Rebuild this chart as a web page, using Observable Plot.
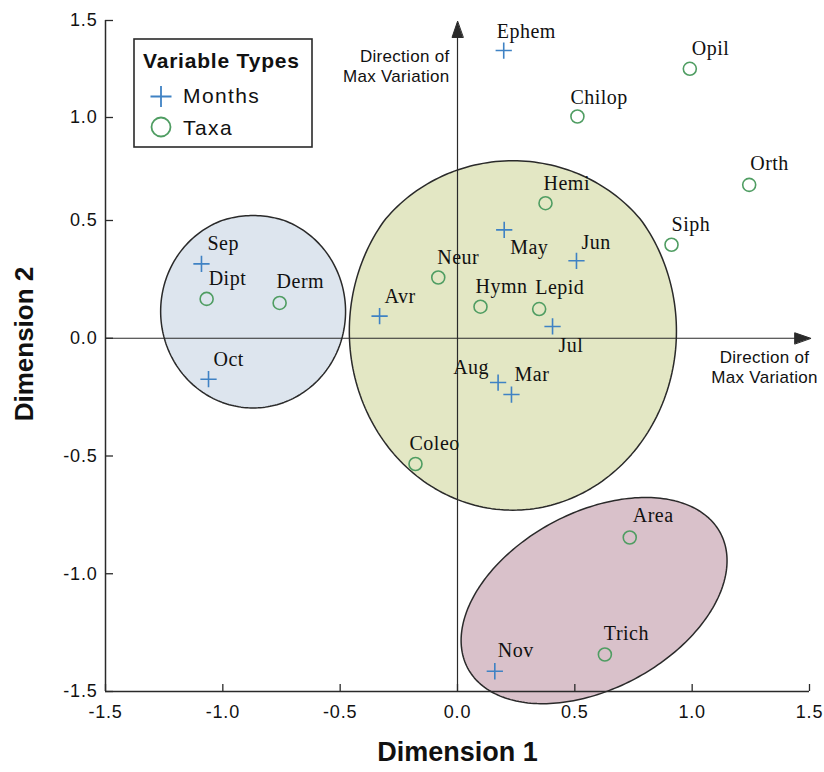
<!DOCTYPE html>
<html>
<head>
<meta charset="utf-8">
<script src="https://cdn.jsdelivr.net/npm/d3@7"></script>
<script src="https://cdn.jsdelivr.net/npm/@observablehq/plot@0.6"></script>
<style>
  body { margin: 0; background: #fff; }
  #wrap { position: relative; width: 824px; height: 772px; }
  #legend { position: absolute; left: 133px; top: 38px; }
  g[aria-label="x-axis tick label"] text, g[aria-label="y-axis tick label"] text { letter-spacing: 0.8px; }
  .ptlabel text { letter-spacing: 0.5px; }
  .dirlabel text { letter-spacing: 0.3px; }
</style>
</head>
<body>
<div id="wrap"></div>
<script>
// ---------- data ----------
const monthNames = ["Ephem", "Sep", "Oct", "Avr", "May", "Jun", "Jul", "Aug", "Mar", "Nov"];
const monthX     = [0.197, -1.091, -1.061, -0.332, 0.199, 0.507, 0.405, 0.173, 0.230, 0.159];
const monthY     = [1.345, 0.316, -0.174, 0.094, 0.460, 0.329, 0.050, -0.188, -0.239, -1.414];

const taxaNames = ["Opil", "Chilop", "Orth", "Hemi", "Siph", "Neur", "Hymn", "Lepid", "Dipt", "Derm", "Coleo", "Area", "Trich"];
const taxaX     = [0.990, 0.511, 1.243, 0.375, 0.912, -0.082, 0.098, 0.348, -1.069, -0.758, -0.179, 0.734, 0.628];
const taxaY     = [1.251, 1.005, 0.673, 0.584, 0.397, 0.258, 0.134, 0.124, 0.167, 0.150, -0.534, -0.846, -1.343];

// cluster ellipses (centre, semi-axes in data units, rotation in degrees)
const clusterIds    = ["left", "centre", "bottom"];
const clusterCx     = [-0.871, 0.236, 0.582];
const clusterCy     = [0.114, 0.030, -1.114];
const clusterRx     = [0.394, 0.697, 0.610];
const clusterRy     = [0.410, 0.760, 0.375];
const clusterAngle  = [0, 0, 28];
const clusterFill   = ["#dde5ee", "#e3e7c4", "#d9c1ca"];

const ticks = [-1.5, -1.0, -0.5, 0.0, 0.5, 1.0, 1.5];

// ---------- derived tables ----------
const months = monthNames.map((n, i) => ({name: n, x: monthX[i], y: monthY[i]}));
const taxa = taxaNames.map((n, i) => ({name: n, x: taxaX[i], y: taxaY[i]}));

function ellipsePoints(i) {
  const pts = [];
  const phi = clusterAngle[i] * Math.PI / 180;
  for (let k = 0; k < 240; k++) {
    const t = 2 * Math.PI * k / 240;
    const dx = clusterRx[i] * Math.cos(t), dy = clusterRy[i] * Math.sin(t);
    pts.push({
      x: clusterCx[i] + dx * Math.cos(phi) - dy * Math.sin(phi),
      y: clusterCy[i] + dx * Math.sin(phi) + dy * Math.cos(phi)
    });
  }
  return pts;
}

// label placement (pixels, relative to marker)
const placement = {
  Ephem: [-7, -19], Opil: [2, -20], Chilop: [-7, -19], Orth: [1, -21], Hemi: [-2, -20],
  Siph: [0, -20], Jun: [5, -18], May: [6, 18], Neur: [-1, -20], Hymn: [-5, -20],
  Lepid: [-4, -21], Jul: [6, 19], Aug: [-9, -15, "end"], Mar: [3, -20], Avr: [5, -20],
  Sep: [6, -20], Dipt: [2, -20], Derm: [-3, -21], Oct: [5, -20], Coleo: [-6, -20],
  Area: [3, -22], Trich: [-1, -21], Nov: [3, -21]
};

const blue = "#3f82c4";
const green = "#4f9d62";
const ink = "#2a2a2a";
const sans = "'Liberation Sans', Arial, Helvetica, sans-serif";
const serif = "'Liberation Serif', 'Times New Roman', serif";

const headShape = {
  draw(c, l) { c.moveTo(0, 0); c.lineTo(-5.5, l); c.lineTo(5.5, l); c.closePath(); }
};
const arrowTips = [{x: 0, y: 1.495, rot: 0}, {x: 1.505, y: 0, rot: 90}];

const labelMarks = [...months, ...taxa].map(d => {
  const p = placement[d.name] || [2, -20];
  return Plot.text([d], {
    x: "x", y: "y", text: "name", dx: p[0], dy: p[1],
    textAnchor: p[2] || "start", fontFamily: serif, fontSize: 20, fill: "#111",
    className: "ptlabel"
  });
});

const chart = Plot.plot({
  width: 824,
  height: 772,
  marginLeft: 105,
  marginRight: 15,
  marginTop: 20,
  marginBottom: 81,
  style: {fontFamily: sans, background: "#fff", overflow: "visible"},
  x: {type: "linear", domain: [-1.5, 1.5], range: [105, 809], label: null},
  y: {type: "linear", domain: [-1.5, 0.5, 1.0, 1.5], range: [691, 220, 117, 20], label: null},
  marks: [
    ...clusterIds.map((id, i) => Plot.line(ellipsePoints(i), {
      x: "x", y: "y", curve: "linear-closed", fill: clusterFill[i], stroke: ink, strokeWidth: 1.5
    })),
    // zero axes with arrowheads
    Plot.ruleY([0], {x1: -1.5, x2: 1.47, stroke: ink, strokeWidth: 1.2}),
    Plot.ruleX([0], {y1: -1.5, y2: 1.46, stroke: ink, strokeWidth: 1.2}),
    Plot.vector(arrowTips, {x: "x", y: "y", rotate: "rot", length: 16, anchor: "start",
      shape: headShape, fill: ink, stroke: ink, strokeWidth: 1}),
    // frame lines
    Plot.ruleX([-1.5], {y1: -1.5, y2: 1.5, stroke: ink, strokeWidth: 1.5}),
    Plot.ruleY([-1.5], {x1: -1.5, x2: 1.5, stroke: ink, strokeWidth: 1.5}),
    Plot.axisY(ticks, {anchor: "left", tickSize: -8, tickPadding: 16, tickFormat: d => d.toFixed(1),
      fontSize: 18, fill: "#111", stroke: ink, strokeWidth: 1.3, label: null}),
    Plot.axisX(ticks, {anchor: "bottom", tickSize: -7, tickPadding: 21, tickFormat: d => d.toFixed(1),
      fontSize: 18, fill: "#111", stroke: ink, strokeWidth: 1.3, label: null}),
    // direction annotations
    Plot.text(["Direction of\nMax Variation"], {x: 0, y: 1.5, dx: -8, dy: 27, textAnchor: "end",
      lineAnchor: "top", lineHeight: 1.2, fontSize: 17, fill: "#111", className: "dirlabel"}),
    Plot.text(["Direction of\nMax Variation"], {x: 1.5, y: 0, dx: -45, dy: 10, textAnchor: "middle",
      lineAnchor: "top", lineHeight: 1.2, fontSize: 17, fill: "#111", className: "dirlabel"}),
    // markers
    Plot.dot(months, {x: "x", y: "y", symbol: "plus", r: 5.3, stroke: blue, strokeWidth: 1.6}),
    Plot.dot(taxa, {x: "x", y: "y", symbol: "circle", r: 6.5, stroke: green, fill: "none", strokeWidth: 1.6}),
    ...labelMarks,
    // axis titles
    Plot.text(["Dimension 1"], {frameAnchor: "bottom", dy: 61, textAnchor: "middle", lineAnchor: "middle",
      fontSize: 27, fontWeight: "bold", fill: "#111"}),
    Plot.text(["Dimension 2"], {frameAnchor: "left", dx: -81, dy: -12, rotate: -90, textAnchor: "middle",
      lineAnchor: "middle", fontSize: 26, fontWeight: "bold", fill: "#111"})
  ]
});

const wrap = document.getElementById("wrap");
wrap.appendChild(chart);

// legend
const legendItems = ["Months", "Taxa"];
const legend = d3.create("svg").attr("id", "legend").attr("width", 181).attr("height", 111)
  .style("font-family", sans);
legend.append("rect").attr("x", 1).attr("y", 1).attr("width", 178).attr("height", 108)
  .attr("fill", "#fff").attr("stroke", ink).attr("stroke-width", 1.6);
legend.append("text").attr("x", 10).attr("y", 30).attr("font-size", 21).attr("font-weight", "bold")
  .attr("letter-spacing", 0.8).attr("fill", "#111").text("Variable Types");
legend.append("path").attr("d", "M17.5,58.5H38.5M28,48V69").attr("stroke", blue).attr("stroke-width", 1.8).attr("fill", "none");
legend.append("circle").attr("cx", 28).attr("cy", 89).attr("r", 9.5).attr("stroke", green).attr("stroke-width", 1.8).attr("fill", "none");
legend.append("text").attr("x", 50).attr("y", 65).attr("font-size", 21).attr("letter-spacing", 1.4).attr("fill", "#111").text(legendItems[0]);
legend.append("text").attr("x", 50).attr("y", 97).attr("font-size", 21).attr("letter-spacing", 1.4).attr("fill", "#111").text(legendItems[1]);
wrap.appendChild(legend.node());
</script>
</body>
</html>
